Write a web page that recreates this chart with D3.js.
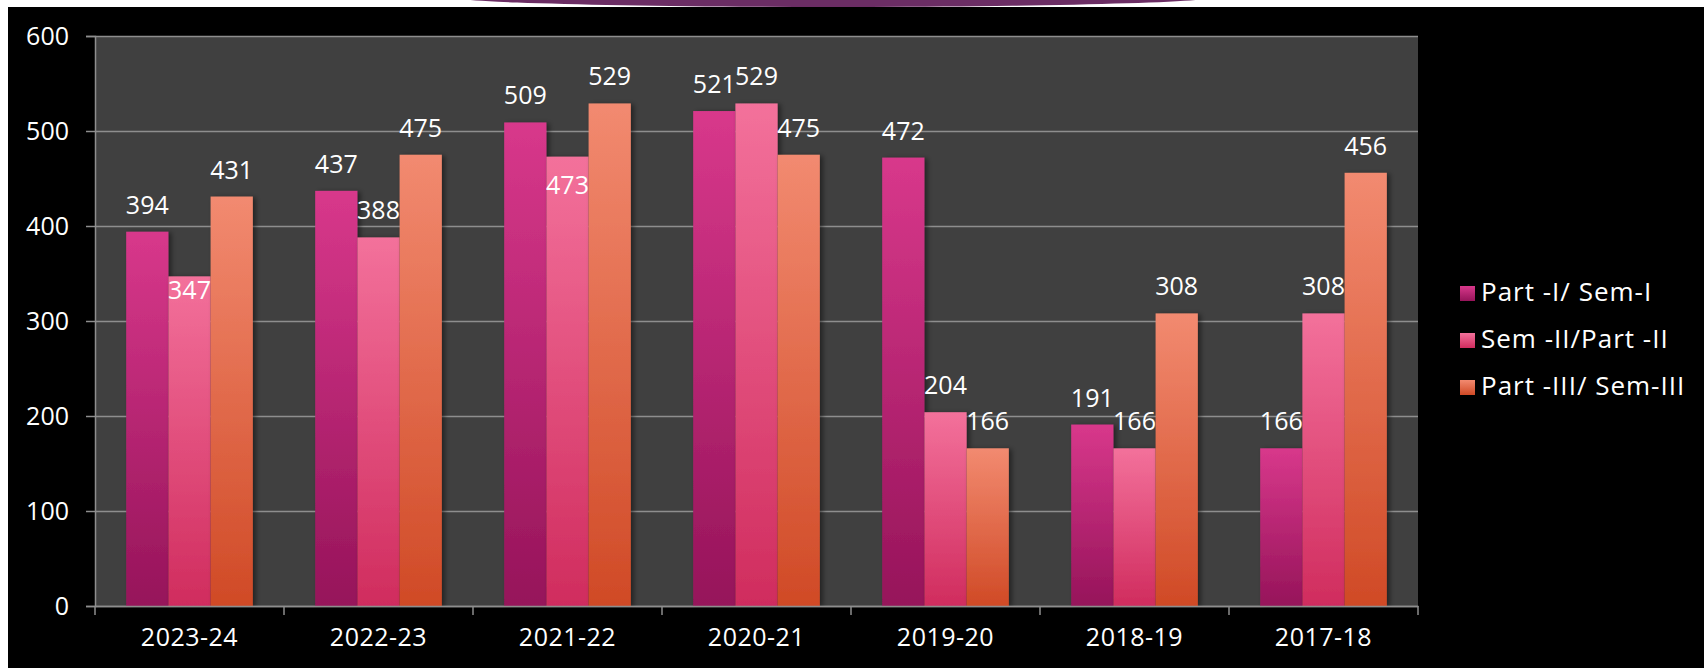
<!DOCTYPE html>
<html>
<head>
<meta charset="utf-8">
<script src="https://cdn.jsdelivr.net/npm/d3@7"></script>
<style>
  html, body { margin: 0; padding: 0; background: #fff; }
  svg { display: block; }
  text { font-family: "Open Sans", "DejaVu Sans", sans-serif; fill: #fff; }
</style>
</head>
<body>
<svg width="1704" height="668"></svg>
<script>
// data
var years = ["2023-24", "2022-23", "2021-22", "2020-21", "2019-20", "2018-19", "2017-18"];
var seriesNames = ["Part -I/ Sem-I", "Sem -II/Part -II", "Part -III/ Sem-III"];
var part1 = [394, 437, 509, 521, 472, 191, 166];
var part2 = [347, 388, 473, 529, 204, 166, 308];
var part3 = [431, 475, 529, 475, 166, 308, 456];
var yTicks = [0, 100, 200, 300, 400, 500, 600];

// labels that sit inside the bar top in the original (series-category : drop below top)
var insideLabels = { "1-0": 23, "1-2": 37 };

var colors = [
  { top: "#d8388b", bottom: "#96145a" },
  { top: "#f3719b", bottom: "#d02c5e" },
  { top: "#f28a70", bottom: "#d04a26" }
];

var svg = d3.select("svg");
var margin = { left: 95, top: 36, right: 286, bottom: 62 };
var width = 1704 - margin.left - margin.right,
    height = 668 - margin.top - margin.bottom;

var defs = svg.append("defs");
colors.forEach(function(c, i) {
  var gr = defs.append("linearGradient")
    .attr("id", "grad" + i)
    .attr("x1", 0).attr("y1", 0).attr("x2", 0).attr("y2", 1);
  gr.append("stop").attr("offset", "0%").attr("stop-color", c.top);
  gr.append("stop").attr("offset", "100%").attr("stop-color", c.bottom);
});
var shadow = defs.append("filter").attr("id", "shadow")
  .attr("x", "-20%").attr("y", "-10%").attr("width", "150%").attr("height", "120%");
shadow.append("feDropShadow")
  .attr("dx", 3).attr("dy", 1).attr("stdDeviation", 2.5)
  .attr("flood-color", "#000").attr("flood-opacity", 0.45);

// slide background
svg.append("rect").attr("x", 8).attr("y", 7).attr("width", 1704 - 8).attr("height", 668 - 7).attr("fill", "#000");
svg.append("ellipse").attr("cx", 833).attr("cy", -3).attr("rx", 380).attr("ry", 10).attr("fill", "#6b2d64");

var g = svg.append("g")
  .attr("transform", "translate(" + margin.left + "," + margin.top + ")");

g.append("rect").attr("width", width).attr("height", height).attr("fill", "#404040");

var x0 = d3.scaleBand()
  .domain(years)
  .range([0, width])
  .paddingInner(0.33)
  .paddingOuter(0.165);

var x1 = d3.scaleBand()
  .domain(d3.range(seriesNames.length))
  .range([0, x0.bandwidth()]);

var y = d3.scaleLinear()
  .domain([0, 600])
  .range([height, 0]);

// gridlines
g.append("g")
  .call(d3.axisLeft(y).tickValues(yTicks).tickSize(-width).tickFormat(""))
  .call(function(s) {
    s.select(".domain").remove();
    s.selectAll("line").attr("stroke", "#8e8e8e").attr("stroke-width", 1.5);
  });

// bars
var table = years.map(function(yr, i) {
  return { year: yr, values: [part1[i], part2[i], part3[i]] };
});

var groups = g.selectAll(".grp")
  .data(table)
  .enter().append("g")
  .attr("transform", function(d) { return "translate(" + x0(d.year) + ",0)"; });

groups.selectAll("rect")
  .data(function(d) { return d.values; })
  .enter().append("rect")
  .attr("x", function(d, i) { return x1(i); })
  .attr("y", function(d) { return y(d); })
  .attr("width", x1.bandwidth())
  .attr("height", function(d) { return height - y(d); })
  .attr("fill", function(d, i) { return "url(#grad" + i + ")"; })
  .attr("filter", "url(#shadow)");

// data labels
groups.each(function(d, ci) {
  d3.select(this).selectAll("text")
    .data(d.values)
    .enter().append("text")
    .attr("x", function(v, si) { return x1(si) + x1.bandwidth() / 2; })
    .attr("y", function(v, si) {
      var k = si + "-" + ci;
      return k in insideLabels ? y(v) + insideLabels[k] : y(v) - 18;
    })
    .attr("text-anchor", "middle")
    .style("font-size", "25px")
    .text(function(v) { return v; });
});

// y axis
g.append("g")
  .call(d3.axisLeft(y).tickValues(yTicks).tickSize(9).tickPadding(17))
  .call(function(s) {
    s.select(".domain").attr("stroke", "#8e8e8e").attr("stroke-width", 1.5);
    s.selectAll("line").attr("stroke", "#8e8e8e").attr("stroke-width", 1.5);
    s.selectAll("text").style("font-size", "25px").attr("fill", "#fff");
  });

// x axis
var xAxis = g.append("g")
  .attr("transform", "translate(0," + height + ")")
  .call(d3.axisBottom(x0).tickSize(0).tickPadding(22))
  .call(function(s) {
    s.select(".domain").attr("stroke", "#8e8e8e").attr("stroke-width", 1.5);
    s.selectAll("text").style("font-size", "25px").style("letter-spacing", "0.5px").attr("fill", "#fff");
  });
var edges = years.map(function(yr) { return x0(yr) - x0.step() * x0.paddingOuter(); }).concat([width]);
xAxis.selectAll(".edge")
  .data(edges)
  .enter().append("line")
  .attr("x1", function(d) { return d; })
  .attr("x2", function(d) { return d; })
  .attr("y1", 0).attr("y2", 9)
  .attr("stroke", "#8e8e8e").attr("stroke-width", 1.5);

// legend
var legend = svg.append("g").attr("transform", "translate(1460,286)");
var items = legend.selectAll("g")
  .data(seriesNames)
  .enter().append("g")
  .attr("transform", function(d, i) { return "translate(0," + i * 47 + ")"; });
items.append("rect")
  .attr("width", 15).attr("height", 15)
  .attr("fill", function(d, i) { return "url(#grad" + i + ")"; });
items.append("text")
  .attr("x", 21).attr("y", 15)
  .style("font-size", "26px")
  .style("letter-spacing", "1px")
  .text(function(d) { return d; });
</script>
</body>
</html>
